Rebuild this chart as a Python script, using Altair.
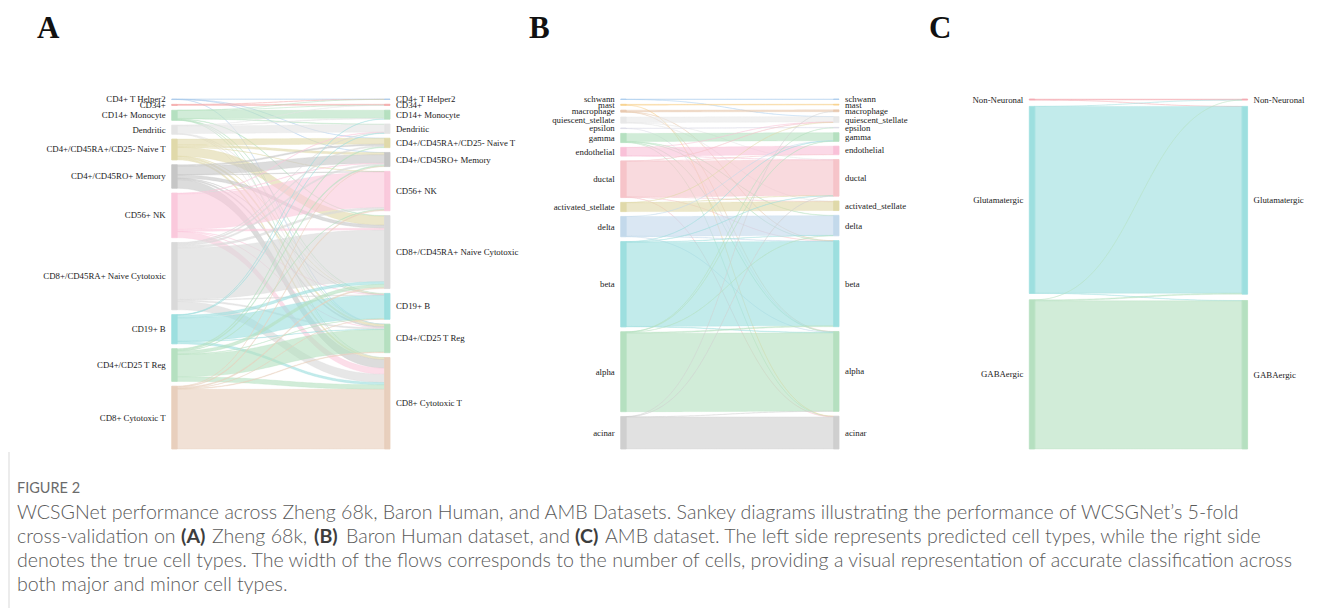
import altair as alt
import numpy as np
import pandas as pd

# ---------------- Panel A: Zheng 68k ----------------
zheng_types = [
    "CD4+ T Helper2", "CD34+", "CD14+ Monocyte", "Dendritic",
    "CD4+/CD45RA+/CD25- Naive T", "CD4+/CD45RO+ Memory", "CD56+ NK",
    "CD8+/CD45RA+ Naive Cytotoxic", "CD19+ B", "CD4+/CD25 T Reg",
    "CD8+ Cytotoxic T",
]
zheng_colors = [
    "#a9c9ea", "#f4aaaa", "#b5e0c0", "#e4e4e4", "#e0d9aa", "#c6c6c6",
    "#fac9dc", "#d9d9d9", "#9ddfdf", "#b5e0c0", "#e8cfbd",
]
# rows: predicted type (left), columns: true type (right)
zheng_counts = [
    [60, 0, 0, 0, 20, 30, 0, 0, 0, 10, 0],
    [30, 220, 0, 0, 0, 0, 0, 0, 0, 0, 0],
    [10, 20, 1800, 120, 0, 0, 0, 120, 100, 40, 40],
    [0, 20, 140, 1700, 0, 0, 0, 0, 80, 50, 40],
    [0, 0, 0, 0, 1300, 470, 50, 2000, 50, 400, 380],
    [0, 0, 0, 0, 300, 1900, 100, 700, 40, 290, 1910],
    [0, 0, 0, 100, 0, 100, 7900, 400, 50, 50, 1350],
    [0, 0, 0, 100, 300, 350, 450, 11500, 150, 300, 1850],
    [0, 0, 60, 80, 0, 0, 0, 600, 5200, 80, 500],
    [0, 0, 0, 0, 180, 250, 80, 700, 60, 5000, 1020],
    [0, 0, 0, 0, 0, 50, 200, 250, 50, 150, 13300],
]

# ---------------- Panel B: Baron Human ----------------
baron_types = [
    "schwann", "mast", "macrophage", "quiescent_stellate", "epsilon",
    "gamma", "endothelial", "ductal", "activated_stellate", "delta",
    "beta", "alpha", "acinar",
]
baron_colors = [
    "#a9cbee", "#f8d08a", "#e8c9b0", "#e8e8e8", "#dcdce6", "#b5e0c0",
    "#f9c1d8", "#f6c4c9", "#e0d9aa", "#c3d9eb", "#9ddfdf", "#b5e0c0",
    "#cfcfcf",
]
baron_counts = [
    [13, 0, 0, 2, 0, 0, 0, 0, 0, 0, 0, 0, 0],
    [0, 24, 0, 0, 0, 0, 0, 0, 0, 0, 0, 0, 6],
    [0, 0, 53, 0, 0, 0, 0, 0, 0, 0, 4, 3, 0],
    [0, 0, 0, 160, 0, 0, 0, 8, 14, 0, 0, 0, 0],
    [0, 0, 0, 0, 15, 0, 0, 0, 0, 0, 0, 3, 0],
    [0, 0, 0, 0, 0, 236, 0, 0, 0, 10, 8, 12, 4],
    [0, 0, 0, 3, 0, 0, 248, 4, 0, 0, 0, 0, 0],
    [0, 0, 0, 6, 0, 0, 2, 1048, 4, 0, 4, 0, 12],
    [0, 0, 0, 5, 0, 0, 0, 5, 262, 0, 0, 0, 0],
    [0, 0, 0, 0, 0, 3, 0, 0, 0, 578, 10, 6, 0],
    [0, 0, 0, 0, 0, 6, 0, 6, 0, 8, 2470, 15, 0],
    [0, 0, 0, 0, 3, 8, 0, 0, 0, 5, 30, 2300, 0],
    [0, 0, 2, 0, 0, 0, 0, 6, 0, 0, 0, 4, 942],
]

# ---------------- Panel C: AMB ----------------
amb_types = ["Non-Neuronal", "Glutamatergic", "GABAergic"]
amb_colors = ["#f4aab2", "#9ddfdf", "#b5e0c0"]
amb_counts = [
    [38, 2, 0],
    [1, 6950, 10],
    [1, 35, 5515],
]

caption_head = "FIGURE 2"
caption_lines = [
    "WCSGNet performance across Zheng 68k, Baron Human, and AMB Datasets. Sankey diagrams illustrating the performance of WCSGNet\u2019s 5-fold",
    None,
    "denotes the true cell types. The width of the flows corresponds to the number of cells, providing a visual representation of accurate classification across",
    "both major and minor cell types.",
]
# second caption line: (text, bold, left edge)
caption_line2 = [
    ("cross-validation on", False, 17),
    ("(A)", True, 181),
    ("Zheng 68k,", False, 212),
    ("(B)", True, 314),
    ("Baron Human dataset, and", False, 346),
    ("(C)", True, 575),
    ("AMB dataset. The left side represents predicted cell types, while the right side", False, 605),
]

LAYOUT_H = 350.0          # vertical extent of a sankey in layout units
NODE_W = 0.025            # node width as a share of the panel span
CURVE_T = np.linspace(0.0, 1.0, 61)


def sankey_layout(names, colors, counts, gap):
    """Stack nodes on both sides and build the curved band of every flow."""
    m = np.array(counts, dtype=float)
    n = len(names)
    out_tot = m.sum(axis=1)
    in_tot = m.sum(axis=0)
    k = (LAYOUT_H - (n - 1) * gap) / m.sum()

    def stack(tot):
        starts, y = [], 0.0
        for v in tot:
            starts.append(y)
            y += v * k + gap
        return starts

    ly0, ry0 = stack(out_tot), stack(in_tot)
    nodes = []
    for i in range(n):
        nodes.append(dict(name=names[i], color=colors[i], side="left",
                          x0=0.0, x1=NODE_W, y0=ly0[i], y1=ly0[i] + out_tot[i] * k))
        nodes.append(dict(name=names[i], color=colors[i], side="right",
                          x0=1.0 - NODE_W, x1=1.0, y0=ry0[i], y1=ry0[i] + in_tot[i] * k))
    nodes = pd.DataFrame(nodes)
    nodes["yc"] = (nodes["y0"] + nodes["y1"]) / 2

    src, tgt = {}, {}
    for i in range(n):
        off = ly0[i]
        for j in range(n):
            if m[i, j] > 0:
                src[(i, j)] = off
                off += m[i, j] * k
    for j in range(n):
        off = ry0[j]
        for i in range(n):
            if m[i, j] > 0:
                tgt[(i, j)] = off
                off += m[i, j] * k

    t = CURVE_T
    xa, xb = NODE_W, 1.0 - NODE_W
    xm = (xa + xb) / 2
    bx = xa * (1 - t) ** 3 + xm * (3 * (1 - t) ** 2 * t + 3 * (1 - t) * t ** 2) + xb * t ** 3
    ws = (1 - t) ** 3 + 3 * (1 - t) ** 2 * t
    wt = 1.0 - ws
    rows = []
    for (i, j), ys in src.items():
        w = m[i, j] * k
        top = ys * ws + tgt[(i, j)] * wt
        for xx, yy in zip(bx, top):
            rows.append(dict(link=f"{i}-{j}", x=xx, y=yy, y2=yy + w, color=colors[i]))
    return nodes, pd.DataFrame(rows)


def sankey_panel(names, colors, counts, gap, x_range):
    nodes, links = sankey_layout(names, colors, counts, gap)
    xs = alt.Scale(domain=[0, 1], range=x_range, nice=False, zero=False)
    ys = alt.Scale(domain=[0, LAYOUT_H], range=[99, 449], nice=False, zero=False)

    flows = alt.Chart(links).mark_area(
        fillOpacity=0.62, strokeOpacity=0.5, strokeWidth=0.6
    ).encode(
        x=alt.X("x:Q", scale=xs, axis=None),
        y=alt.Y("y:Q", scale=ys, axis=None),
        y2="y2:Q",
        detail="link:N",
        color=alt.Color("color:N", scale=None),
        stroke=alt.Stroke("color:N", scale=None),
    )
    bars = alt.Chart(nodes).mark_rect(strokeWidth=0.8).encode(
        x=alt.X("x0:Q", scale=xs, axis=None),
        x2="x1:Q",
        y=alt.Y("y0:Q", scale=ys, axis=None),
        y2="y1:Q",
        color=alt.Color("color:N", scale=None),
        stroke=alt.Stroke("color:N", scale=None),
    )
    label_style = dict(font="Liberation Serif", fontSize=8.8, color="#1a1a1a", baseline="middle")
    left_labels = alt.Chart(nodes[nodes.side == "left"]).mark_text(
        align="right", dx=-6, **label_style
    ).encode(
        x=alt.X("x0:Q", scale=xs, axis=None),
        y=alt.Y("yc:Q", scale=ys, axis=None),
        text="name:N",
    )
    right_labels = alt.Chart(nodes[nodes.side == "right"]).mark_text(
        align="left", dx=6, **label_style
    ).encode(
        x=alt.X("x1:Q", scale=xs, axis=None),
        y=alt.Y("yc:Q", scale=ys, axis=None),
        text="name:N",
    )
    return [flows, bars, left_labels, right_labels]


def text_at(text, x, y, **style):
    return alt.Chart(pd.DataFrame({"t": [text]})).mark_text(
        align="left", baseline="middle", **style
    ).encode(x=alt.value(x), y=alt.value(y), text="t:N")


layers = []
layers += sankey_panel(zheng_types, zheng_colors, zheng_counts, 4.8, [171.7, 390.0])
layers += sankey_panel(baron_types, baron_colors, baron_counts, 4.8, [620.7, 839.0])
layers += sankey_panel(amb_types, amb_colors, amb_counts, 6.3, [1029.3, 1247.6])

letter_style = dict(font="Liberation Serif", fontSize=31, fontWeight="bold", color="#111111")
for letter, lx in [("A", 37), ("B", 529), ("C", 929)]:
    layers.append(text_at(letter, lx, 29, **letter_style))

CAP_SIZE = 19.6
cap_style = dict(font="Lato", fontSize=CAP_SIZE, color="#5a5a5a", fontWeight=300)
cap_bold = dict(font="Lato", fontSize=CAP_SIZE, color="#3d3d3d", fontWeight="bold")
layers.append(text_at(caption_head, 17, 489, font="Lato", fontSize=14.5, color="#6b6b6b"))
line_y = [513, 537, 561, 585]
for line, ly in zip(caption_lines, line_y):
    if line is not None:
        layers.append(text_at(line, 17, ly, **cap_style))
for seg, bold, sx in caption_line2:
    layers.append(text_at(seg, sx, line_y[1], **(cap_bold if bold else cap_style)))

# left border of the caption box
layers.append(
    alt.Chart(pd.DataFrame({"v": [0]})).mark_rule(color="#d9d9d9", strokeWidth=1).encode(
        x=alt.value(9), y=alt.value(452), y2=alt.value(608)
    )
)

chart = alt.layer(*layers).resolve_scale(
    x="independent", y="independent", color="independent", stroke="independent"
).properties(
    width=1331, height=608, padding=0, autosize=alt.AutoSizeParams(type="none"),
    background="white",
).configure_view(stroke=None)

chart.save("out.html", embed_options={"renderer": "svg", "actions": False})
